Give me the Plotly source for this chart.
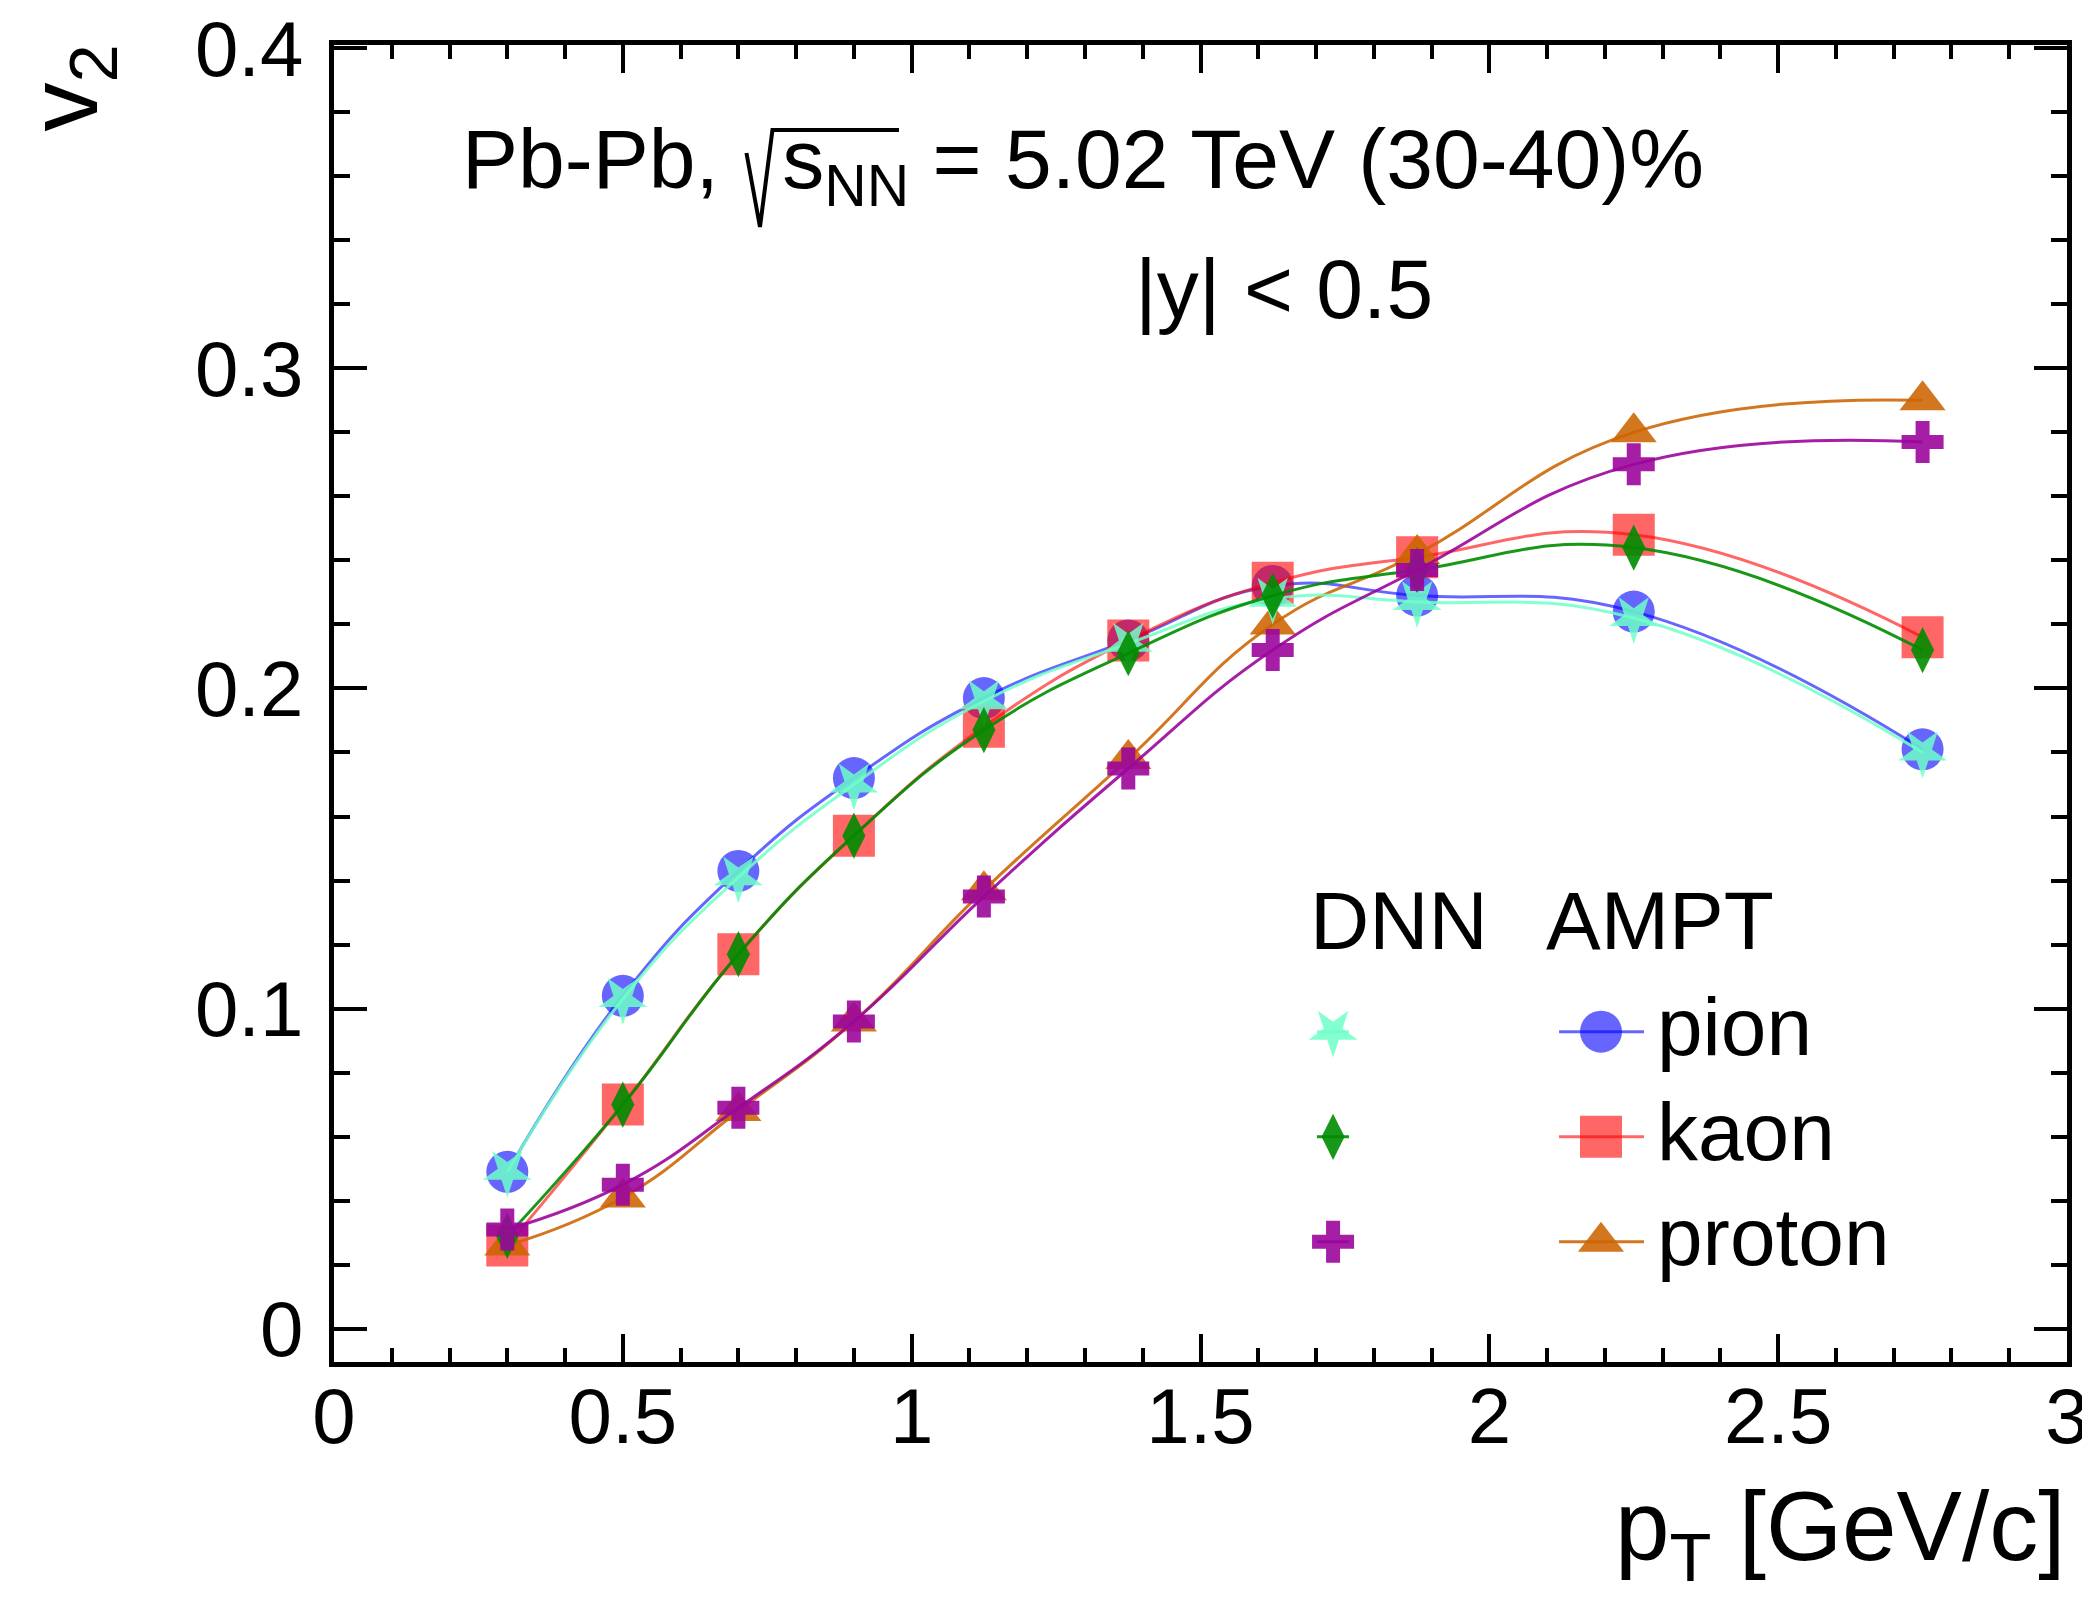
import plotly.graph_objects as go

pt = [0.3, 0.5, 0.7, 0.9, 1.125, 1.375, 1.625, 1.875, 2.25, 2.75]
pion_ampt = [0.049, 0.104, 0.143, 0.172, 0.197, 0.215, 0.232, 0.229, 0.224, 0.181]
pion_dnn = [0.049, 0.103, 0.141, 0.170, 0.196, 0.214, 0.228, 0.227, 0.222, 0.180]
kaon_ampt = [0.026, 0.070, 0.117, 0.154, 0.188, 0.215, 0.233, 0.241, 0.248, 0.216]
kaon_dnn = [0.029, 0.070, 0.117, 0.154, 0.187, 0.211, 0.229, 0.237, 0.244, 0.212]
proton_ampt = [0.026, 0.041, 0.068, 0.096, 0.137, 0.178, 0.220, 0.242, 0.280, 0.290]
proton_dnn = [0.031, 0.045, 0.069, 0.096, 0.135, 0.175, 0.212, 0.237, 0.270, 0.277]

species = ["pion", "kaon", "proton"]

FONT = "Liberation Sans, Arial, Helvetica, sans-serif"
FS_TICK = 78
FS_TEXT = 84
FS_LEG = 82
FS_TITLE = 98

C_BLUE = "rgba(0,0,255,0.6)"
C_RED = "rgba(255,0,0,0.6)"
C_ORANGE = "rgba(204,100,0,0.88)"
C_AQUA = "rgba(110,255,200,0.85)"
C_GREEN = "rgba(0,140,0,0.9)"
C_PURPLE = "rgba(155,5,155,0.9)"

# (values, colour, symbol, size, outline width, angle)
ampt = [
    (pion_ampt, C_BLUE, "circle", 42, None, 0),
    (kaon_ampt, C_RED, "square", 42, None, 0),
    (proton_ampt, C_ORANGE, "triangle-up", 40, None, 0),
]
dnn = [
    (pion_dnn, C_AQUA, "star", 37, None, 180),
    (kaon_dnn, C_GREEN, "diamond-tall", 33, None, 0),
    (proton_dnn, C_PURPLE, "cross-thin", 30, 14, 0),
]


def make_marker(col, sym, sz, lw, ang):
    m = dict(symbol=sym, size=sz, color=col, angle=ang)
    m["line"] = dict(width=lw, color=col) if lw else dict(width=0)
    return m


fig = go.Figure()

for vals, col, sym, sz, lw, ang in ampt + dnn:
    fig.add_trace(go.Scatter(
        x=pt, y=vals, mode="lines+markers",
        line=dict(color=col, width=3, shape="spline", smoothing=1.3),
        marker=make_marker(col, sym, sz, lw, ang), showlegend=False,
        hoverinfo="skip",
    ))

# legend drawn on an overlay axis in plot-area fractions
leg_rows = [0.2508, 0.1710, 0.0913]
leg_dnn_x = 0.5765
leg_dnn_seg = [0.5672, 0.5857]
leg_ampt_x = 0.7311
leg_ampt_seg = [0.7069, 0.7559]
for i, (a, d) in enumerate(zip(ampt, dnn)):
    for entry, cx, seg in ((a, leg_ampt_x, leg_ampt_seg),
                           (d, leg_dnn_x, leg_dnn_seg)):
        _, col, sym, sz, lw, ang = entry
        fig.add_trace(go.Scatter(
            x=[seg[0], cx, seg[1]], y=[leg_rows[i]] * 3,
            mode="lines", line=dict(color=col, width=3),
            xaxis="x2", yaxis="y2", showlegend=False, hoverinfo="skip"))
        fig.add_trace(go.Scatter(
            x=[cx], y=[leg_rows[i]], mode="markers",
            marker=make_marker(col, sym, sz, lw, ang),
            xaxis="x2", yaxis="y2", showlegend=False, hoverinfo="skip"))

NB = "\u00a0"
annotations = [
    dict(text="DNN", x=0.562, y=0.335, xanchor="left", yanchor="middle",
         size=FS_LEG),
    dict(text="AMPT", x=0.698, y=0.335, xanchor="left", yanchor="middle",
         size=FS_LEG),
]
for i, name in enumerate(species):
    annotations.append(dict(text=name, x=0.762, y=leg_rows[i] + 0.004,
                            xanchor="left", yanchor="middle", size=FS_LEG))
annotations += [
    dict(text="Pb-Pb," + NB * 2 + "\u2009" + "s<sub>NN</sub> = 5.02 TeV (30-40)%",
         x=0.0727, y=0.909, xanchor="left", yanchor="middle", size=FS_TEXT),
    dict(text="|y| < 0.5", x=0.461, y=0.815, xanchor="left",
         yanchor="middle", size=FS_TEXT),
    dict(text="v<sub>2</sub>", x=-0.152, y=1.002, xanchor="center",
         yanchor="top", textangle=-90, size=FS_TITLE),
    dict(text="p<sub>T</sub> [GeV/c]", x=1.0, y=-0.13, xanchor="right",
         yanchor="middle", size=FS_TITLE),
]
for a in annotations:
    sz = a.pop("size")
    a.update(xref="paper", yref="paper", showarrow=False,
             font=dict(family=FONT, size=sz, color="black"))

# radical sign for sqrt(s_NN)
rad = [(0.2380, 0.9180), (0.2458, 0.8618), (0.2530, 0.9355), (0.3260, 0.9355)]
rad_path = "M " + " L ".join(f"{x},{y}" for x, y in rad)

fig.update_layout(
    width=2090, height=1605,
    margin=dict(l=326, r=31, t=37, b=251, autoexpand=False),
    paper_bgcolor="white", plot_bgcolor="white",
    font=dict(family=FONT, size=FS_TICK, color="black"),
    annotations=annotations,
    shapes=[dict(type="path", xref="paper", yref="paper", path=rad_path,
                 line=dict(color="black", width=4))],
    xaxis=dict(range=[0, 3], dtick=0.5, tick0=0, ticks="inside", ticklen=28,
               tickwidth=4, tickcolor="black", showline=True, linewidth=5,
               linecolor="black", mirror="allticks", showgrid=False,
               zeroline=False, ticklabelstandoff=-18, automargin=False,
               ticklabeloverflow="allow",
               tickfont=dict(family=FONT, size=FS_TICK),
               minor=dict(dtick=0.1, ticks="inside", ticklen=14, tickwidth=4,
                          tickcolor="black", showgrid=False)),
    yaxis=dict(range=[-0.0104, 0.401], dtick=0.1, tick0=0, ticks="inside",
               ticklen=33, tickwidth=4, tickcolor="black", showline=True,
               linewidth=5, linecolor="black", mirror="allticks",
               showgrid=False, zeroline=False, ticklabelstandoff=10,
               automargin=False, ticklabeloverflow="allow",
               tickfont=dict(family=FONT, size=FS_TICK),
               minor=dict(dtick=0.02, ticks="inside", ticklen=16, tickwidth=4,
                          tickcolor="black", showgrid=False)),
    xaxis2=dict(range=[0, 1], overlaying="x", visible=False),
    yaxis2=dict(range=[0, 1], overlaying="y", visible=False),
)

fig.write_html("out.html")
